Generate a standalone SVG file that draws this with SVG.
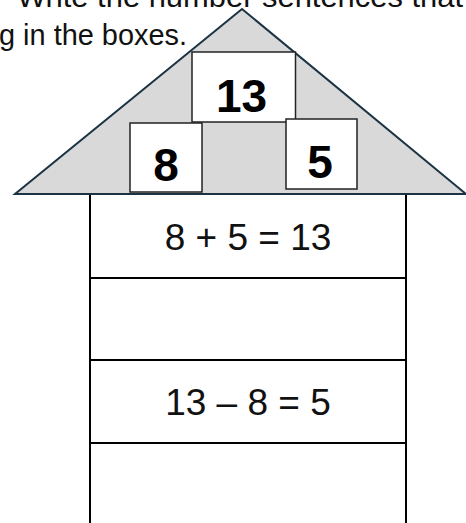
<svg xmlns="http://www.w3.org/2000/svg" width="466" height="523" viewBox="0 0 466 523">
<style>
.hdr{font-family:"Liberation Sans",Arial,sans-serif;font-size:29px;fill:#111}
.box{fill:#fff;stroke:#222;stroke-width:1.5}
.num{font-family:"Liberation Sans",Arial,sans-serif;font-weight:bold;font-size:46px;fill:#000;text-anchor:middle}
.eq{font-family:"Liberation Sans",Arial,sans-serif;font-size:37px;fill:#111;text-anchor:middle}
.ln{stroke:#000;stroke-width:2;fill:none}
</style>
<rect width="466" height="523" fill="#fff"/>
<g id="header">
<text class="hdr" x="17" y="7" textLength="446" lengthAdjust="spacingAndGlyphs">Write the number sentences that</text>
<text class="hdr" x="-1" y="45" textLength="188" lengthAdjust="spacingAndGlyphs">g in the boxes.</text>
</g>
<g id="roof">
<polygon points="242,9 15,194 466,194" fill="#d9d9d9" stroke="#1c3344" stroke-width="2" stroke-linejoin="miter"/>
</g>
<g id="box13">
<rect class="box" x="192" y="52" width="103.5" height="70"/>
<text class="num" x="241.5" y="112">13</text>
</g>
<g id="box8">
<rect class="box" x="130" y="123" width="72" height="69"/>
<text class="num" x="166" y="181">8</text>
</g>
<g id="box5">
<rect class="box" x="286" y="119" width="71" height="70"/>
<text class="num" x="320" y="178">5</text>
</g>
<g id="body">
<path class="ln" d="M90,195 V523 M406,195 V523 M90,278 H406 M90,360 H406 M90,443 H406"/>
<text class="eq" x="248" y="250">8 + 5 = 13</text>
<text class="eq" x="248" y="415">13 – 8 = 5</text>
</g>
</svg>
